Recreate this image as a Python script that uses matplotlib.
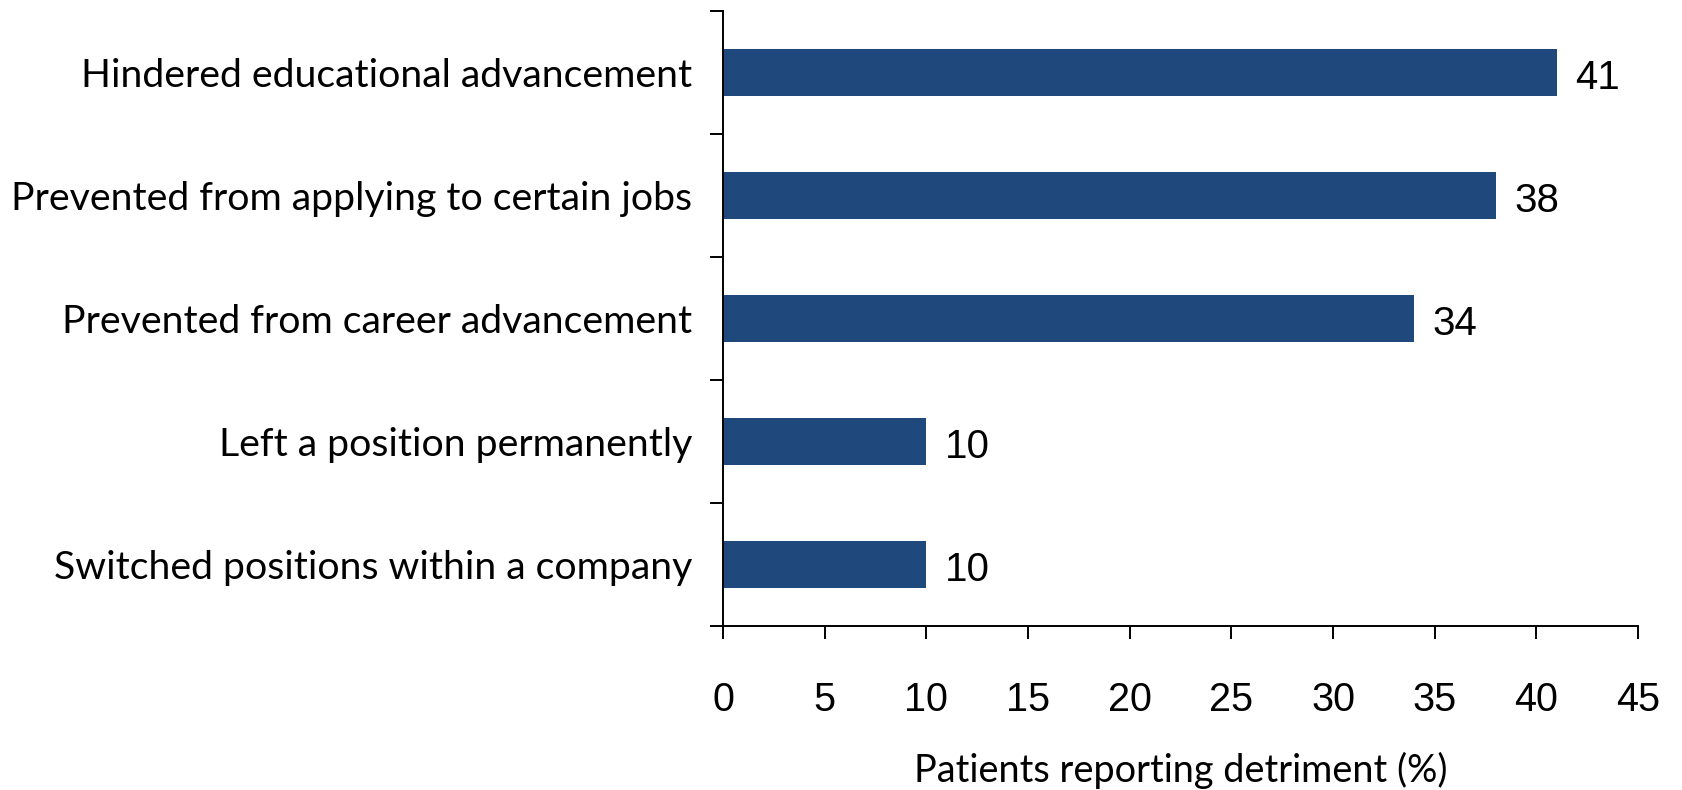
import matplotlib
matplotlib.use("Agg")
import matplotlib.pyplot as plt
import numpy as np

categories = [
    "Hindered educational advancement",
    "Prevented from applying to certain jobs",
    "Prevented from career advancement",
    "Left a position permanently",
    "Switched positions within a company",
]
values = [41, 38, 34, 10, 10]
xticks = [0, 5, 10, 15, 20, 25, 30, 35, 40, 45]
xlabel = "Patients reporting detriment (%)"

bar_color = "#1F497D"
label_font = ["Lato", "DejaVu Sans"]
num_font = ["Liberation Sans", "DejaVu Sans"]

fig = plt.figure(figsize=(16.83, 7.90), dpi=100)
ax = fig.add_axes([0.4296, 0.2076, 0.9733 - 0.4296, 0.986 - 0.2076])

n = len(categories)
ypos = np.arange(n)[::-1]
ax.barh(ypos, values, height=0.38, color=bar_color, zorder=2)

for y, v in zip(ypos, values):
    ax.text(v + 0.9, y - 0.045, f"{v}", va="center", ha="left", fontsize=29,
            family=num_font, color="black")

ax.set_xlim(0, 45)
ax.set_ylim(-0.5, n - 0.5)
ax.set_xticks(xticks)
ax.set_xticklabels([str(t) for t in xticks], fontsize=28.5, family=num_font)

ax.set_yticks(ypos)
ax.set_yticklabels(categories, fontsize=28.3, family=label_font)
ax.set_yticks(np.arange(-0.5, n, 1.0), minor=True)
ax.tick_params(axis="y", which="major", length=0, pad=22)
ax.tick_params(axis="y", which="minor", length=9.4, width=1.4, direction="out")
ax.tick_params(axis="x", which="major", length=9.4, width=1.4, direction="out", pad=30)

ax.set_xlabel(xlabel, fontsize=27.3, family=label_font, labelpad=24)

for s in ["top", "right"]:
    ax.spines[s].set_visible(False)
for s in ["left", "bottom"]:
    ax.spines[s].set_linewidth(1.4)

fig.savefig("out.png", dpi=100)
